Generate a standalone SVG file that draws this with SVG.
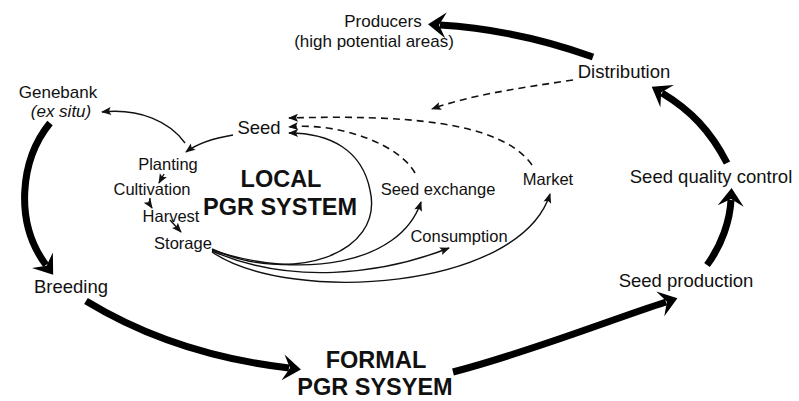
<svg xmlns="http://www.w3.org/2000/svg" width="799" height="401" viewBox="0 0 799 401">
<defs>
<style>
text{font-family:"Liberation Sans",Arial,sans-serif;fill:#111;text-anchor:middle}
.big{font-size:18.5px}
.two{font-size:17px}
.sm{font-size:16.5px}
.bold{font-size:23.5px;font-weight:bold}
.thick{fill:none;stroke:#000;stroke-width:7;marker-end:url(#bigArrow)}
.thin{fill:none;stroke:#111;stroke-width:1.4;marker-end:url(#smallArrow)}
.dash{fill:none;stroke:#111;stroke-width:1.6;stroke-dasharray:7,5;marker-end:url(#smallArrow)}
</style>
<marker id="bigArrow" markerUnits="userSpaceOnUse" markerWidth="40" markerHeight="40" viewBox="-10 -20 30 40" refX="0" refY="0" orient="auto">
<path d="M12,0 L-6,-13 L1,0 L-6,13 Z" fill="#000"/>
</marker>
<marker id="smallArrow" markerUnits="userSpaceOnUse" markerWidth="14" markerHeight="12" viewBox="-11 -6 13 12" refX="0" refY="0" orient="auto">
<path d="M1,0 L-9,-4 L-7,0 L-9,4 Z" fill="#111"/>
</marker>
</defs>

<g id="connectors">
<path class="thick" d="M50,123 C20,160 14,222 46,265"/>
<path class="thick" d="M86,301 C150,340 220,360 289,368"/>
<path class="thick" d="M453,372 C530,352 610,320 666,302"/>
<path class="thick" d="M707,265 C722,245 730,220 731,200"/>
<path class="thick" d="M727,163 C710,130 690,110 662,93"/>
<path class="thick" d="M593,57 C540,38 490,28 440,25"/>

<path class="thin" d="M185,143 C170,122 140,108 102,112"/>
<path class="thin" d="M233,135 C215,138 198,143 186,152"/>
<path class="thin" d="M164,174 L159,183"/>
<path class="thin" d="M150,198 C149,202 150,205 152,208"/>
<path class="thin" d="M170,220 L181,232"/>
<path class="thin" d="M212,249 C290,285 385,255 370,190 C362,150 330,133 289,133"/>
<path class="thin" d="M212,250 C300,280 400,265 421,202"/>
<path class="thin" d="M212,251 C290,285 380,275 449,248"/>
<path class="thin" d="M212,252 C290,305 520,290 550,194"/>

<path class="dash" d="M415,173 C400,145 340,122 289,127"/>
<path class="dash" d="M532,165 C500,120 400,115 289,118"/>
<path class="dash" d="M573,80 C520,88 470,95 432,109"/>
</g>

<g id="producers"><text class="two" x="383" y="27">Producers</text><text class="two" x="374" y="46.5">(high potential areas)</text></g>
<g id="distribution"><text class="big" x="624" y="78">Distribution</text></g>
<g id="genebank"><text class="two" x="58" y="97.5">Genebank</text><text class="two" x="61" y="117"><tspan font-style="italic">(ex situ)</tspan></text></g>
<g id="seed"><text class="big" x="259" y="134">Seed</text></g>
<g id="planting"><text class="sm" x="168" y="170">Planting</text></g>
<g id="cultivation"><text class="sm" x="152" y="195">Cultivation</text></g>
<g id="harvest"><text class="sm" x="171" y="222">Harvest</text></g>
<g id="storage"><text class="sm" x="183" y="249">Storage</text></g>
<g id="local"><text class="bold" x="281" y="187">LOCAL</text><text class="bold" x="280" y="215">PGR SYSTEM</text></g>
<g id="seed-exchange"><text class="sm" x="438" y="195">Seed exchange</text></g>
<g id="market"><text class="sm" x="548" y="185">Market</text></g>
<g id="consumption"><text class="sm" x="459" y="242">Consumption</text></g>
<g id="seed-quality"><text class="big" x="711" y="183">Seed quality control</text></g>
<g id="seed-production"><text class="big" x="686" y="287">Seed production</text></g>
<g id="breeding"><text class="big" x="71" y="293">Breeding</text></g>
<g id="formal"><text class="bold" x="376" y="368">FORMAL</text><text class="bold" x="375" y="395">PGR SYSYEM</text></g>
</svg>
